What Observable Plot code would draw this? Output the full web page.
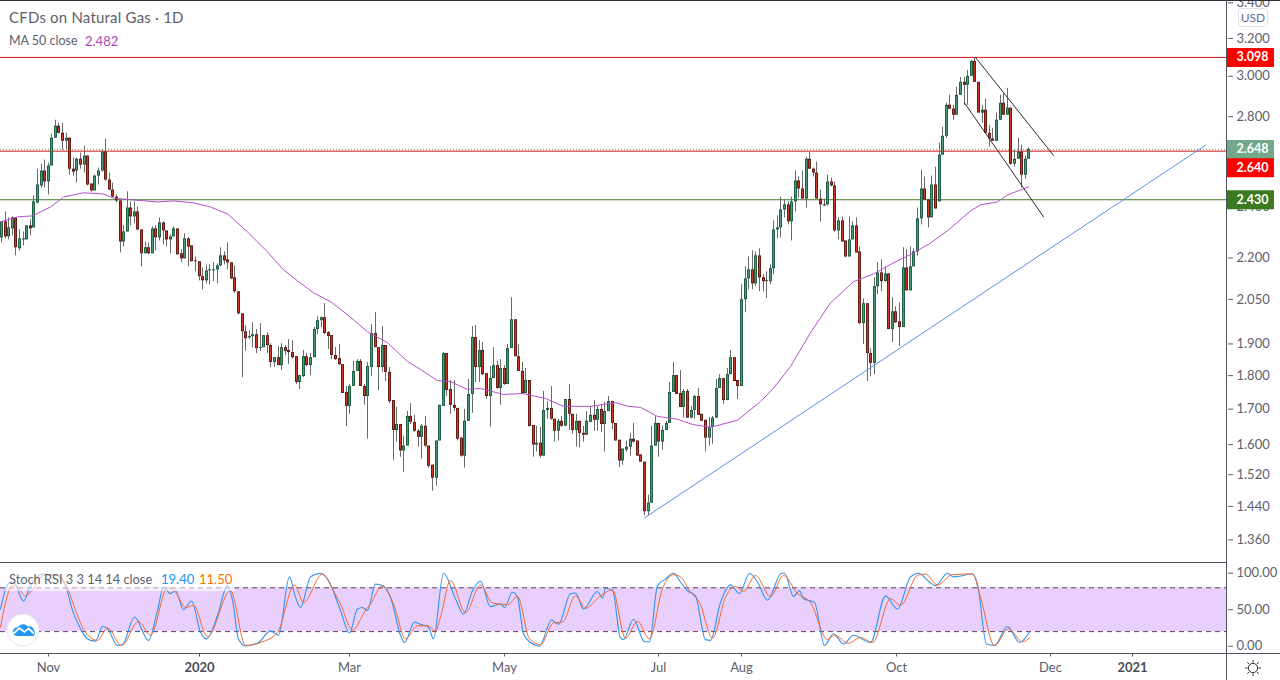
<!DOCTYPE html>
<html><head><meta charset="utf-8">
<script src="https://cdn.jsdelivr.net/npm/d3@7"></script>
<script src="https://cdn.jsdelivr.net/npm/@observablehq/plot@0.6"></script>
<style>
html,body{margin:0;padding:0;background:#fff;overflow:hidden}
#page{position:relative;width:1280px;height:680px;overflow:hidden;font-family:Lato,"Open Sans",sans-serif;color:#5d606b}
#page svg{display:block}
.abs{position:absolute;white-space:nowrap}
.hl{position:absolute;background:#50535e}
</style></head><body>
<div id="page">
  <div id="top"></div><div id="bottom"></div>
</div>
<script>
const open=[2.277,2.340,2.281,2.312,2.356,2.235,2.269,2.269,2.324,2.316,
2.417,2.488,2.552,2.505,2.574,2.699,2.755,2.722,2.685,2.699,
2.560,2.552,2.604,2.578,2.618,2.496,2.467,2.530,2.552,2.636,
2.513,2.471,2.441,2.425,2.261,2.300,2.396,2.360,2.380,2.308,
2.216,2.239,2.216,2.312,2.277,2.336,2.304,2.269,2.281,2.312,
2.216,2.197,2.273,2.246,2.189,2.186,2.131,2.116,2.152,2.152,
2.156,2.171,2.208,2.193,2.182,2.127,2.077,2.000,1.940,1.920,
1.924,1.930,1.885,1.888,1.927,1.895,1.841,1.856,1.831,1.888,
1.879,1.872,1.859,1.779,1.797,1.859,1.831,1.856,1.947,1.977,
1.987,1.937,1.927,1.863,1.853,1.834,1.749,1.708,1.767,1.813,
1.844,1.767,1.737,1.825,1.934,1.888,1.825,1.895,1.810,1.725,
1.639,1.656,1.583,1.596,1.679,1.662,1.637,1.620,1.651,1.596,
1.545,1.511,1.610,1.708,1.869,1.758,1.711,1.702,1.618,1.569,
1.665,1.743,1.921,1.825,1.879,1.806,1.737,1.791,1.831,1.761,
1.822,1.773,1.885,1.980,1.859,1.813,1.746,1.785,1.653,1.599,
1.604,1.569,1.696,1.702,1.671,1.637,1.665,1.651,1.728,1.685,
1.639,1.665,1.631,1.626,1.662,1.682,1.668,1.699,1.656,1.693,
1.722,1.659,1.612,1.556,1.585,1.593,1.615,1.610,1.572,1.553,
1.427,1.448,1.596,1.659,1.607,1.639,1.659,1.749,1.800,1.746,
1.705,1.752,1.674,1.696,1.737,1.685,1.668,1.618,1.648,1.674,
1.761,1.791,1.725,1.803,1.856,1.785,1.767,2.049,2.123,2.156,
2.105,2.208,2.127,2.116,2.113,2.160,2.308,2.316,2.388,2.409,
2.340,2.421,2.509,2.475,2.433,2.604,2.560,2.543,2.433,2.409,
2.409,2.505,2.488,2.304,2.344,2.265,2.204,2.269,2.324,2.223,
1.967,2.035,1.869,1.838,2.095,2.145,2.113,2.141,1.947,2.007,
1.973,1.954,2.163,2.080,2.167,2.223,2.352,2.475,2.429,2.356,
2.492,2.421,2.622,2.708,2.855,2.836,2.807,2.904,2.969,2.954,
3.000,3.077,2.969,2.817,2.831,2.722,2.695,2.685,2.783,2.865,
2.807,2.841,2.582,2.604,2.636,2.534,2.604];
const close=[2.340,2.281,2.316,2.356,2.239,2.273,2.273,2.324,2.312,2.421,
2.492,2.552,2.505,2.574,2.699,2.755,2.722,2.685,2.699,2.560,
2.547,2.604,2.578,2.618,2.492,2.467,2.530,2.552,2.636,2.513,
2.471,2.441,2.425,2.261,2.300,2.396,2.360,2.380,2.308,2.216,
2.239,2.216,2.312,2.277,2.336,2.304,2.269,2.281,2.312,2.212,
2.197,2.273,2.242,2.186,2.186,2.131,2.116,2.152,2.156,2.156,
2.171,2.208,2.189,2.182,2.123,2.077,2.000,1.940,1.917,1.924,
1.930,1.885,1.888,1.927,1.895,1.841,1.856,1.831,1.888,1.876,
1.872,1.856,1.779,1.800,1.859,1.831,1.856,1.947,1.977,1.987,
1.934,1.924,1.863,1.850,1.834,1.746,1.708,1.767,1.813,1.844,
1.767,1.737,1.828,1.934,1.888,1.825,1.895,1.810,1.722,1.639,
1.656,1.583,1.596,1.679,1.662,1.637,1.620,1.651,1.596,1.542,
1.511,1.610,1.711,1.869,1.755,1.711,1.702,1.615,1.569,1.665,
1.743,1.921,1.825,1.879,1.803,1.737,1.791,1.831,1.761,1.822,
1.773,1.885,1.980,1.859,1.813,1.746,1.785,1.650,1.599,1.604,
1.569,1.696,1.702,1.671,1.637,1.665,1.651,1.728,1.685,1.639,
1.665,1.631,1.626,1.665,1.682,1.668,1.699,1.656,1.693,1.722,
1.659,1.610,1.556,1.588,1.593,1.615,1.607,1.569,1.553,1.427,
1.448,1.596,1.659,1.607,1.639,1.659,1.749,1.800,1.743,1.705,
1.752,1.674,1.696,1.737,1.682,1.665,1.618,1.648,1.674,1.761,
1.791,1.725,1.803,1.856,1.782,1.767,2.049,2.123,2.156,2.105,
2.208,2.127,2.113,2.113,2.160,2.308,2.316,2.388,2.409,2.340,
2.421,2.509,2.475,2.433,2.604,2.560,2.543,2.433,2.409,2.404,
2.505,2.488,2.304,2.344,2.261,2.204,2.269,2.324,2.219,1.967,
2.035,1.869,1.838,2.095,2.145,2.113,2.141,1.947,2.007,1.970,
1.954,2.163,2.080,2.167,2.223,2.352,2.475,2.429,2.356,2.492,
2.392,2.622,2.708,2.855,2.836,2.807,2.904,2.969,2.954,3.000,
3.077,2.969,2.817,2.831,2.722,2.695,2.685,2.783,2.865,2.807,
2.841,2.582,2.604,2.636,2.534,2.604,2.648];
const high=[2.340,2.380,2.356,2.360,2.356,2.308,2.300,2.324,2.348,2.446,
2.560,2.582,2.600,2.587,2.718,2.783,2.769,2.769,2.722,2.699,
2.609,2.609,2.631,2.663,2.618,2.496,2.534,2.565,2.645,2.695,
2.543,2.500,2.450,2.425,2.324,2.463,2.421,2.421,2.400,2.308,
2.261,2.257,2.320,2.324,2.356,2.340,2.304,2.289,2.320,2.312,
2.231,2.293,2.277,2.246,2.204,2.186,2.163,2.174,2.174,2.182,
2.178,2.239,2.223,2.257,2.182,2.171,2.077,2.000,1.960,1.943,
1.970,1.947,1.967,1.927,1.937,1.901,1.856,1.892,1.901,1.895,
1.914,1.911,1.859,1.800,1.879,1.869,1.869,1.954,1.990,1.990,
2.035,1.940,1.927,1.888,1.898,1.834,1.767,1.773,1.844,1.850,
1.850,1.773,1.841,1.964,2.004,1.888,1.957,1.895,1.825,1.725,
1.705,1.656,1.623,1.693,1.716,1.682,1.642,1.656,1.679,1.596,
1.545,1.610,1.711,1.872,1.869,1.785,1.785,1.702,1.618,1.699,
1.788,1.957,1.960,1.911,1.904,1.806,1.828,1.888,1.844,1.850,
1.831,1.898,2.056,1.980,1.898,1.841,1.822,1.785,1.653,1.651,
1.648,1.752,1.722,1.767,1.671,1.671,1.679,1.728,1.773,1.685,
1.685,1.665,1.651,1.693,1.708,1.725,1.708,1.714,1.719,1.737,
1.722,1.659,1.612,1.588,1.610,1.631,1.659,1.610,1.572,1.553,
1.468,1.651,1.679,1.659,1.651,1.665,1.779,1.841,1.800,1.816,
1.758,1.758,1.708,1.740,1.761,1.685,1.668,1.676,1.679,1.788,
1.803,1.791,1.822,1.879,1.856,1.785,2.102,2.167,2.204,2.227,
2.223,2.235,2.138,2.149,2.174,2.344,2.364,2.441,2.429,2.421,
2.441,2.552,2.526,2.552,2.613,2.636,2.565,2.591,2.471,2.433,
2.534,2.522,2.505,2.356,2.360,2.265,2.360,2.340,2.356,2.242,
2.052,2.035,1.885,2.127,2.182,2.193,2.167,2.141,2.056,2.024,
2.038,2.239,2.231,2.242,2.235,2.396,2.556,2.526,2.429,2.530,
2.569,2.676,2.750,2.865,2.904,2.855,2.944,2.994,2.994,3.030,
3.082,3.098,2.969,2.855,2.884,2.759,2.745,2.817,2.904,2.914,
2.939,2.841,2.645,2.699,2.667,2.618,2.654];
const low=[2.257,2.273,2.269,2.285,2.208,2.227,2.246,2.269,2.285,2.316,
2.413,2.479,2.479,2.450,2.574,2.699,2.718,2.645,2.645,2.534,
2.530,2.500,2.560,2.543,2.488,2.463,2.467,2.492,2.547,2.509,
2.467,2.437,2.417,2.219,2.242,2.300,2.324,2.332,2.304,2.167,
2.216,2.212,2.216,2.227,2.265,2.250,2.242,2.216,2.281,2.212,
2.182,2.197,2.167,2.186,2.149,2.116,2.084,2.105,2.102,2.113,
2.105,2.167,2.174,2.156,2.120,2.070,1.997,1.794,1.876,1.914,
1.888,1.869,1.876,1.888,1.869,1.825,1.825,1.831,1.816,1.863,
1.834,1.850,1.773,1.758,1.794,1.828,1.800,1.856,1.930,1.954,
1.930,1.882,1.850,1.847,1.831,1.746,1.650,1.685,1.767,1.813,
1.767,1.711,1.615,1.797,1.888,1.755,1.810,1.782,1.716,1.558,
1.607,1.566,1.526,1.596,1.656,1.634,1.593,1.561,1.593,1.537,
1.478,1.491,1.610,1.708,1.737,1.685,1.693,1.610,1.566,1.537,
1.665,1.688,1.779,1.779,1.800,1.728,1.648,1.791,1.758,1.711,
1.770,1.773,1.885,1.859,1.813,1.746,1.746,1.650,1.566,1.580,
1.564,1.569,1.671,1.668,1.607,1.610,1.648,1.651,1.639,1.629,
1.593,1.591,1.607,1.626,1.662,1.637,1.637,1.634,1.580,1.693,
1.642,1.610,1.539,1.545,1.580,1.569,1.604,1.569,1.553,1.417,
1.417,1.448,1.596,1.566,1.585,1.639,1.659,1.749,1.743,1.705,
1.674,1.674,1.674,1.671,1.682,1.665,1.580,1.596,1.601,1.674,
1.761,1.714,1.725,1.803,1.782,1.728,1.767,2.004,2.084,2.084,
2.095,2.077,2.077,2.052,2.102,2.138,2.273,2.277,2.356,2.328,
2.265,2.380,2.437,2.433,2.396,2.560,2.526,2.433,2.340,2.404,
2.404,2.484,2.300,2.269,2.261,2.201,2.204,2.269,2.219,1.964,
1.898,1.782,1.797,1.803,2.066,2.077,2.113,1.947,1.904,1.967,
1.892,1.954,2.080,2.080,2.167,2.208,2.328,2.429,2.316,2.356,
2.392,2.421,2.622,2.699,2.836,2.783,2.807,2.904,2.855,2.855,
3.000,2.969,2.817,2.769,2.722,2.658,2.685,2.685,2.783,2.807,
2.807,2.578,2.569,2.604,2.479,2.517,2.604];

// 50-day moving average, read at bar positions
const maBar=[-0.3,4.5,8.6,13.6,17.3,22.8,28.4,31.2,36.7,43.4,47.9,53.5,58.2,62.9,68.5,74.1,78.5,82.4,86.9,91.6,96.3,101.9,107.5,113,116.6,121.4,125,129.7,133.4,139.8,145,151.4,156.5,164,170.9,174.6,177.9,182.6,188.2,192.4,197.4,204.9,211.3,214.6,219.7,225.2,230.8,237.2,242.8,248.3,253.9,258.6,263.6,269.8,272.5,277.3,280.1,285.9];
const maVal=[2.340,2.360,2.364,2.400,2.441,2.459,2.454,2.437,2.429,2.421,2.425,2.417,2.400,2.372,2.300,2.223,2.156,2.116,2.073,2.042,1.997,1.940,1.904,1.844,1.819,1.785,1.782,1.758,1.761,1.743,1.746,1.731,1.708,1.708,1.719,1.708,1.705,1.679,1.671,1.656,1.648,1.668,1.722,1.758,1.828,1.937,2.038,2.113,2.141,2.182,2.219,2.257,2.308,2.384,2.409,2.421,2.450,2.484];

// Stoch RSI knots (bar position on a 3.55 px grid, value)
const kPos=[-0.3,2.1,3.5,6.1,8.2,11.5,15.2,18,19.9,22.3,24.1,26.5,28.4,29.8,32.6,34,37.6,41.5,43.9,45.7,47.6,49,51.2,53.4,56.1,57.7,60.8,63.6,65,66.9,68.7,72.5,75.8,78.1,81,82.8,84.2,87,89.9,92.2,95.5,98.1,100.2,101.6,103,105.4,107.2,109.6,112.4,113.5,116.3,118,120.4,121.6,124.6,127.9,130.2,132.6,134.8,137.8,140.6,141.8,143.9,145.3,147,149,151.6,154.8,157,160.3,161.7,164,167.8,169.2,170.1,172,174.4,175.3,178.1,181.1,182.4,184.7,187.1,189.4,191.3,193.2,195.5,198.3,199.7,202.6,205.4,208,210.6,212.9,215.9,219.7,220.6,223.2,224.9,226,228.9,231.9,234.3,237.3,240.1,244.8,249,252.3,256.1,258.4,261.3,263.1,266.4,268.3,273.5,274.9,277.5,279.6,283.3,286.9,289.7];
const kVal=[51,86,88,62,83,99,98,83,49,24,10,7,27,24,1,2,40,8,49,81,72,76,50,62,19,10,42,83,63,10,0.5,5,21,15,95,67,53,95,100,90,49,18,51,53,49,85,83,67,15,5,33,30,26,10,100,65,44,76,89,54,58,53,74,67,17,5,0,36,30,72,73,51,75,66,79,77,11,9,37,6,6,83,92,100,88,76,69,9,8,60,84,72,100,88,63,100,100,68,76,65,60,1,17,3,15,5,69,51,95,100,88,83,100,95,99,85,3,1,27,5,19.4];
const dPos=[-0.3,3,4.4,6.8,9.1,11.9,15.7,19,20.9,23.7,27,29.8,33.7,38.7,42,46.7,49,51.8,54.2,58.1,64.5,68.7,73,77.7,82.4,85.2,90.3,93.6,95.5,98.8,102.5,104,107.2,110.5,113.8,117.3,119.9,122.3,123.7,126.5,130.7,134.9,138.2,142.4,145.3,148.6,151.8,155.6,157.9,161.7,164.5,168.7,172,175.8,179.1,182.4,186.1,189.4,191.3,194.1,196.5,200.2,204,206.8,209.1,212.4,216.7,220.4,224.2,227.9,232.6,234.7,238.7,242,245.3,250.3,253.3,258,260.3,263.6,267.8,273.5,275.8,279.6,283.8,287.6,289.7];
const dVal=[26,83,81,69,79,97,97,76,49,19,8,25,1,34,15,80,74,53,56,13,76,1,5,19,84,60,99,76,58,22,49,58,83,58,10,28,28,21,40,90,46,84,59,57,68,10,2,32,33,69,52,69,77,11,34,10,79,98,95,74,60,11,67,82,75,97,68,97,72,60,9,15,4,12,5,65,56,97,99,84,98,99,67,1,24,6,11.5];
const stochBand=[20,80];

// Tick labels and their bar positions
const monthLabels=["Nov","Mar","May","Jul","Aug","Oct","Dec"];
const monthBars=[13.1,96.9,140,182.9,206,249.2,292];
const yearLabels=["2020","2021"];
const yearBars=[55.1,315];
const priceTicks=[3.4,3.2,3.0,2.8,2.4,2.2,2.05,1.9,1.8,1.7,1.6,1.52,1.44,1.36];
const stochTicks=[0,50,100];

// Drawn lines: [bar, price]
const trendBars=[179,335.2], trendPrices=[1.412,2.667];
const chanUpBars=[271.1,293], chanUpPrices=[3.098,2.621];
const chanLoBars=[268.1,290], chanLoPrices=[2.867,2.360];

const barStep=3.592, gridRatio=3.55/barStep;
const xDomain=[-1/barStep,1226/barStep];
const xMax=xDomain[1];
const labelSpan=13; // bars' worth of axis width used by price tags
const GREEN_IN="#4b9a78",GREEN_EDGE="#1c5a3f",RED_IN="#c93a2b",RED_EDGE="#5e1a12";
const innerK=Math.exp(1/586);

const bars=open.map((o,i)=>{
  const t=Math.max(o,close[i]),b=Math.min(o,close[i]);
  return {i,open:o,close:close[i],high:high[i],low:low[i],up:close[i]>=o,top:t,bot:b,innerTop:t/innerK,innerBot:b*innerK};
});
const inner=bars.filter(d=>d.innerTop>d.innerBot);
const ma=maBar.map((x,i)=>({x,y:maVal[i]}));
const pairs=(xs,ys)=>xs.map((x,i)=>({x,y:ys[i]}));
const kLine=kPos.map((x,i)=>({x:x*gridRatio,y:kVal[i]}));
const dLine=dPos.map((x,i)=>({x:x*gridRatio,y:dVal[i]}));

const tags=[
 {p:3.098,t:"3.098",c:"#ff0000",dy:0},
 {p:2.648,t:"2.648",c:"#73a98b",dy:0},
 {p:2.640,t:"2.640",c:"#ff0000",dy:16.5},
 {p:2.430,t:"2.430",c:"#3b7a1e",dy:0}
];
const FF='Lato,"Open Sans",sans-serif';

const topPlot=Plot.plot({
  width:1280,height:562,marginLeft:0,marginRight:53,marginTop:0,marginBottom:0,
  style:{fontFamily:FF,fontSize:"13px",background:"transparent"},
  x:{domain:xDomain,round:true,axis:null},
  y:{type:"log",domain:[1.3085,3.414],range:[562,0],label:null},
  marks:[
    Plot.axisY(priceTicks,{anchor:"right",tickSize:5,tickPadding:4,tickFormat:d3.format(".3f"),color:"#5d606b",label:null}),
    Plot.ruleY([3.098],{x1:xDomain[0],x2:xMax,stroke:"#d81515"}),
    Plot.ruleY([2.648],{x1:xDomain[0],x2:xMax,stroke:"#7c8f84",strokeDasharray:"1,2"}),
    Plot.ruleY([2.640],{x1:xDomain[0],x2:xMax,stroke:"#d81515"}),
    Plot.ruleY([2.430],{x1:xDomain[0],x2:xMax,stroke:"#3b7a1e"}),
    Plot.ruleX(bars,{x:"i",y1:"low",y2:"high",stroke:"#6a6a6a"}),
    Plot.ruleX(bars,{x:"i",y1:"top",y2:"bot",stroke:d=>d.up?GREEN_EDGE:RED_EDGE,strokeWidth:3}),
    Plot.ruleX(inner,{x:"i",y1:"innerTop",y2:"innerBot",stroke:d=>d.up?GREEN_IN:RED_IN,strokeWidth:1.2}),
    Plot.line(ma,{x:"x",y:"y",stroke:"#b550cc",strokeWidth:1,curve:"linear"}),
    Plot.line(pairs(trendBars,trendPrices),{x:"x",y:"y",stroke:"#5a8ef0",strokeWidth:1}),
    Plot.line(pairs(chanUpBars,chanUpPrices),{x:"x",y:"y",stroke:"#2d2d2d",strokeWidth:1}),
    Plot.line(pairs(chanLoBars,chanLoPrices),{x:"x",y:"y",stroke:"#2d2d2d",strokeWidth:1}),
    ...tags.flatMap(t=>[
      Plot.ruleY([t.p],{x1:xMax,x2:xMax+labelSpan,stroke:t.c,strokeWidth:19,dy:t.dy}),
      Plot.text([t.t],{x:xMax+2.4,y:[t.p],dy:t.dy,text:d=>d,fill:"#fff",textAnchor:"start",fontWeight:"bold",fontSize:12.5})
    ])
  ]
});
document.getElementById("top").append(topPlot);

const bottomPlot=Plot.plot({
  width:1280,height:118,marginLeft:0,marginRight:53,marginTop:0,marginBottom:26.5,
  style:{fontFamily:FF,fontSize:"13px",background:"transparent"},
  x:{domain:xDomain,round:true},
  y:{domain:[-10.7,114.7],label:null},
  marks:[
    Plot.rectY([0],{x1:xDomain[0],x2:xMax,y1:stochBand[0],y2:stochBand[1],fill:"#e9d0fc"}),
    Plot.ruleY(stochBand,{x1:xDomain[0],x2:xMax,stroke:"#54465f",strokeDasharray:"5,4"}),
    Plot.line(kLine,{x:"x",y:"y",stroke:"#2f93f2",strokeWidth:1.1,curve:"monotone-x"}),
    Plot.line(dLine,{x:"x",y:"y",stroke:"#f4692c",strokeWidth:1,curve:"monotone-x"}),
    Plot.axisY(stochTicks,{anchor:"right",tickSize:5,tickPadding:4,tickFormat:d3.format(".2f"),color:"#5d606b",label:null}),
    Plot.axisX(monthBars,{anchor:"bottom",tickSize:3,tickPadding:6,tickFormat:(d,i)=>monthLabels[i],color:"#5d606b",label:null}),
    Plot.axisX(yearBars,{anchor:"bottom",tickSize:3,tickPadding:6,tickFormat:(d,i)=>yearLabels[i],color:"#4a4d57",fontWeight:"bold",label:null})
  ]
});
document.getElementById("bottom").append(bottomPlot);

const page=document.getElementById("page");
function line(l,t,w,h,c){const e=document.createElement("div");e.className="hl";e.style.cssText+=`left:${l}px;top:${t}px;width:${w}px;height:${h}px;`+(c?`background:${c};`:"");page.append(e);}
line(0,0,1280,1,"#2a2e39");
line(0,562,1227,1);
line(0,653,1280,1);
line(1226,0,1,680);
function text(html,l,t,css){const e=document.createElement("div");e.className="abs";e.style.cssText+=`left:${l}px;top:${t}px;${css||""}`;e.innerHTML=html;page.append(e);}
text("",5,571,"width:230px;height:20px;background:rgba(255,255,255,.55)");
text('CFDs on Natural Gas · 1D',9,8,"font-size:15px;color:#5d606b;letter-spacing:.2px");
text('MA 50 close',9,33,"font-size:12.5px;color:#5d606b");
text('2.482',85,33,"font-size:13px;color:#ab47bc");
text('Stoch RSI 3 3 14 14 close',9,571,"font-size:12.8px;color:#5d606b");
text('19.40',161,571,"font-size:13px;color:#2196f3");
text('11.50',199,571,"font-size:13px;color:#ff6d00");
text('USD',1238,8,"width:28px;height:17px;line-height:17px;text-align:center;border:1px solid #dfe1e6;border-radius:4px;font-size:12px;color:#5b6d92;background:#fff");
text('<svg width="34" height="34" viewBox="0 0 34 34"><circle cx="17" cy="17" r="16" fill="#fff" stroke="#ece3f2"/><path d="M11 23a4.2 4.2 0 0 1-3.4-6.6 4.4 4.4 0 0 1 4.4-2c1.6-3.4 7-4.600 9.600-1 3.600-1 6.400 1.400 6.400 4.200a3.200 3.200 0 0 1-1 5.400z" fill="#2196f3"/><path d="M7.500 20.500l6-5.500 5 4 4-3.500 5.500 5" fill="none" stroke="#fff" stroke-width="1.7"/></svg>',6,613);
text('<svg width="18" height="18" viewBox="0 0 18 18" fill="none" stroke="#333" stroke-width="1"><circle cx="9" cy="9" r="4.6"/><path d="M9 1v2.600M9 14.400V17M1 9h2.600M14.400 9H17M3.300 3.300l1.900 1.900M12.800 12.800l1.900 1.900M3.300 14.700l1.900-1.900M12.800 5.200l1.900-1.900"/></svg>',1244,659);
</script>
</body></html>
